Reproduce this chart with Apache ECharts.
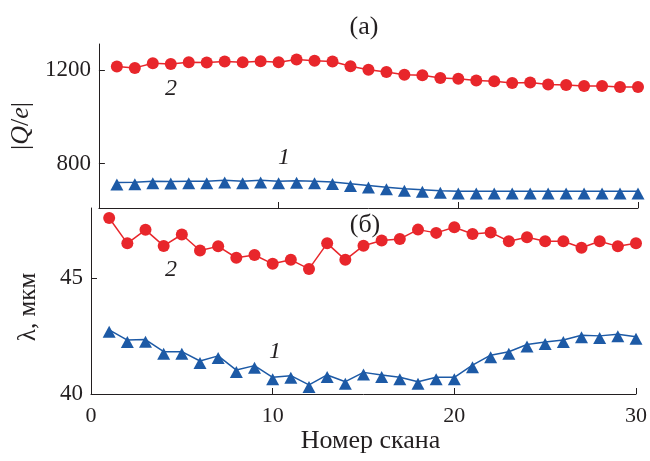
<!DOCTYPE html>
<html>
<head>
<meta charset="utf-8">
<script src="https://cdn.jsdelivr.net/npm/echarts@6/dist/echarts.min.js"></script>
<style>
  html, body { margin: 0; padding: 0; background: #ffffff; }
  #chart { width: 650px; height: 461px; }
</style>
</head>
<body>
<div id="chart"></div>
<script>
// Scan numbers along the horizontal axis
const scanNumbers = [1, 2, 3, 4, 5, 6, 7, 8, 9, 10, 11, 12, 13, 14, 15,
                     16, 17, 18, 19, 20, 21, 22, 23, 24, 25, 26, 27, 28, 29, 30];

// Panel (а): |Q/e| for curves 1 and 2
const chargeCurve1 = [719, 720, 724, 723, 724, 724, 728, 724, 728, 724, 726, 724, 721, 713, 706,
                      699, 692, 688, 684, 681, 681, 681, 681, 681, 681, 681, 681, 681, 681, 681];
const chargeCurve2 = [1214, 1208, 1228, 1225, 1232, 1231, 1235, 1232, 1236, 1232, 1244, 1239, 1235, 1215, 1200,
                      1190, 1179, 1177, 1165, 1162, 1154, 1151, 1144, 1146, 1137, 1135, 1131, 1131, 1126, 1126];

// Panel (б): λ, мкм for curves 1 and 2
const lambdaCurve1 = [42.76, 42.32, 42.34, 41.82, 41.82, 41.42, 41.64, 41.03, 41.22, 40.72, 40.79, 40.39, 40.82, 40.53, 40.93,
                      40.82, 40.72, 40.53, 40.72, 40.72, 41.24, 41.67, 41.82, 42.13, 42.24, 42.32, 42.53, 42.50, 42.57, 42.46];
const lambdaCurve2 = [47.57, 46.48, 47.06, 46.37, 46.86, 46.17, 46.35, 45.86, 45.98, 45.60, 45.77, 45.38, 46.48, 45.77, 46.38,
                      46.60, 46.67, 47.07, 46.93, 47.17, 46.88, 46.95, 46.57, 46.74, 46.57, 46.57, 46.29, 46.57, 46.35, 46.48];

// Tick values
const scanTicks = [0, 10, 20, 30];
const chargeTicks = [800, 1200];
const lambdaTicks = [40, 45];

const FONT = '"Liberation Serif", "DejaVu Serif", serif';
const INK = '#231f20';
const RED = '#e8262b';
const BLUE = '#1d5aa6';

function pairs(ys) {
  return scanNumbers.map((x, i) => [x, ys[i]]);
}

// Plain numbers, no thousands separators
const plain = v => String(v);

function xAxisFor(gridIndex, withLabels) {
  return {
    gridIndex: gridIndex,
    type: 'value',
    min: scanTicks[0],
    max: scanTicks[scanTicks.length - 1],
    interval: 10,
    axisLine: { show: true, onZero: false, lineStyle: { color: INK, width: 1 } },
    axisTick: { show: true, inside: true, length: 6, lineStyle: { color: INK, width: 1 } },
    axisLabel: withLabels
      ? { show: true, formatter: plain, fontFamily: FONT, fontSize: 22, color: INK, margin: 11 }
      : { show: false },
    splitLine: { show: false },
    name: withLabels ? 'Номер скана' : '',
    nameLocation: 'middle',
    nameGap: 34,
    nameTextStyle: { fontFamily: FONT, fontSize: 26, color: INK, padding: [0, 0, 0, 14] }
  };
}

function yAxisFor(gridIndex, min, max, ticks, name, nameGap, extra) {
  return Object.assign({
    gridIndex: gridIndex,
    type: 'value',
    min: min,
    max: max,
    axisLine: { show: true, lineStyle: { color: INK, width: 1 } },
    axisTick: { show: true, inside: true, length: 6, customValues: ticks, lineStyle: { color: INK, width: 1 } },
    axisLabel: { show: true, customValues: ticks, formatter: plain, fontFamily: FONT, fontSize: 23, color: INK, margin: 8 },
    splitLine: { show: false },
    name: name,
    nameLocation: 'middle',
    nameRotate: 90,
    nameGap: nameGap
  }, extra);
}

function circleSeries(xi, yi, ys) {
  return {
    type: 'line', xAxisIndex: xi, yAxisIndex: yi,
    data: pairs(ys),
    symbol: 'circle', symbolSize: 12,
    itemStyle: { color: RED },
    lineStyle: { color: RED, width: 1.5 },
    z: 3
  };
}

function triangleSeries(xi, yi, ys) {
  return {
    type: 'line', xAxisIndex: xi, yAxisIndex: yi,
    data: pairs(ys),
    symbol: 'triangle', symbolSize: [13, 12], symbolOffset: [0, '17%'],
    itemStyle: { color: BLUE },
    lineStyle: { color: BLUE, width: 1.5 },
    z: 3
  };
}

function tag(text, x, y, italic, size) {
  return {
    type: 'text', x: x, y: y,
    style: {
      text: text,
      font: (italic ? 'italic ' : '') + size + 'px ' + FONT,
      fill: INK,
      textAlign: 'center',
      textVerticalAlign: 'middle'
    }
  };
}

const chart = echarts.init(document.getElementById('chart'), null, { renderer: 'canvas' });

chart.setOption({
  animation: false,
  backgroundColor: '#ffffff',
  grid: [
    { left: 91, right: 12, top: 44, height: 164 },
    { left: 91, right: 12, top: 208, height: 186 }
  ],
  xAxis: [xAxisFor(0, false), xAxisFor(1, true)],
  yAxis: [
    yAxisFor(0, 610, 1310, chargeTicks, '|{i|Q}/{i|e}|', 46, {
      nameTextStyle: {
        fontFamily: FONT, fontSize: 26, color: INK,
        rich: { i: { fontFamily: FONT, fontSize: 26, fontStyle: 'italic', color: INK } }
      }
    }),
    yAxisFor(1, 40, 48, lambdaTicks, 'λ, мкм', 50, {
      nameTextStyle: { fontFamily: FONT, fontSize: 25, color: INK, padding: [0, 12, 0, 0] }
    })
  ],
  series: [
    circleSeries(0, 0, chargeCurve2),
    triangleSeries(0, 0, chargeCurve1),
    circleSeries(1, 1, lambdaCurve2),
    triangleSeries(1, 1, lambdaCurve1)
  ],
  graphic: [
    tag('(а)', 364, 27, false, 26),
    tag('(б)', 365, 225, false, 26),
    tag('2', 171, 89, true, 24),
    tag('1', 284, 158, true, 24),
    tag('2', 171, 270, true, 24),
    tag('1', 275, 352, true, 24)
  ]
});
</script>
</body>
</html>
